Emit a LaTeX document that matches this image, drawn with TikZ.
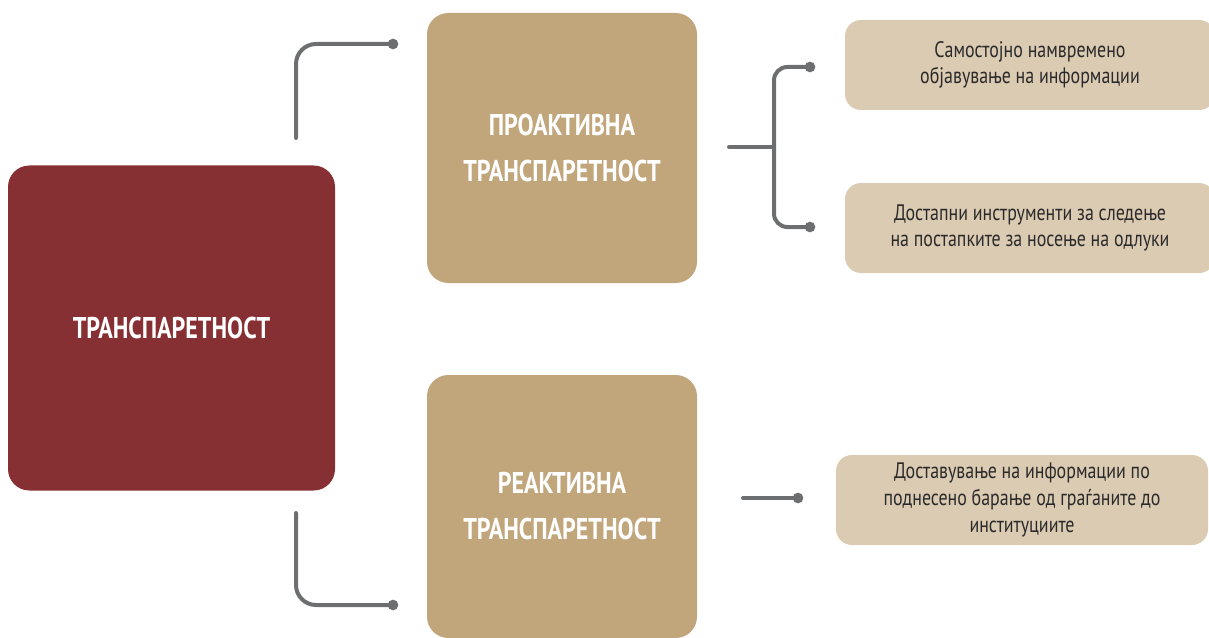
\documentclass[tikz,border=0pt]{standalone}
\usepackage{fontspec}
\setmainfont{PT Sans}[FakeStretch=0.8]
\usepackage{tikz}
\usetikzlibrary{positioning,calc,arrows.meta}

\definecolor{trRed}{HTML}{873034}
\definecolor{trTan}{HTML}{C1A67C}
\definecolor{trSand}{HTML}{DCCBB3}
\definecolor{trGray}{HTML}{6D6E70}
\definecolor{trText}{HTML}{2A2A2A}

\tikzset{
    bigbox/.style={fill=#1, rounded corners=16pt, inner sep=0pt, text=white,
        align=center, font=\bfseries\fontsize{22.5}{34.5}\selectfont},
    infobox/.style={fill=trSand, rounded corners=12pt, inner sep=0pt, text=trText,
        minimum height=67.5pt, align=center, font=\fontsize{16.8}{20}\selectfont},
    link/.style={trGray, line width=3pt, line cap=round},
    tip/.style={fill=trGray, draw=none}
}

\begin{document}
\begin{tikzpicture}[x=0.75pt, y=-0.75pt]
    \useasboundingbox (0,0) rectangle (1209,638);
    \clip (0,0) rectangle (1209,638);

    % main boxes
    \node[bigbox=trRed, minimum width=245.25pt, minimum height=243.75pt] (trans) at (171.5,328) {ТРАНСПАРЕТНОСТ};
    \node[bigbox=trTan, minimum width=202.5pt, minimum height=202.5pt] (proact) at (562,148) {ПРОАКТИВНА\\ТРАНСПАРЕТНОСТ};
    \node[bigbox=trTan, minimum width=202.5pt, minimum height=197.25pt] (react) at (562,506.5) {РЕАКТИВНА\\ТРАНСПАРЕТНОСТ};

    % detail boxes
    \node[infobox, minimum width=277.5pt] (samost) at (1030,65) {Самостојно намвремено\\објавување на информации};
    \node[infobox, minimum width=277.5pt] (dostap) at (1030,228) {Достапни инструменти за следење\\на постапките за носење на одлуки};
    \node[infobox, minimum width=279pt] (dostav) at (1022,500) {Доставување на информации по\\поднесено барање од граѓаните до\\институциите};

    % connector points
    \coordinate (tUp) at (296,138);
    \coordinate (tDown) at (296,513);
    \coordinate (pIn) at (393,44);
    \coordinate (rIn) at (393,605);
    \coordinate (pOut) at (729,147);
    \coordinate (fork) at (774,147);
    \coordinate (sIn) at (810,67);
    \coordinate (dIn) at (810,227);
    \coordinate (rOut) at (743,498);
    \coordinate (vIn) at (798,498);

    \draw[link, rounded corners=15pt] (tUp) |- (pIn);
    \draw[link, rounded corners=15pt] (tDown) |- (rIn);
    \draw[link] (pOut) -- (fork);
    \draw[link, rounded corners=10pt] (sIn) -| (fork) |- (dIn);
    \draw[link] (rOut) -- (vIn);

    \foreach \p in {pIn,rIn,sIn,dIn,vIn}
        \fill[tip] (\p) circle (4pt);
\end{tikzpicture}
\end{document}
